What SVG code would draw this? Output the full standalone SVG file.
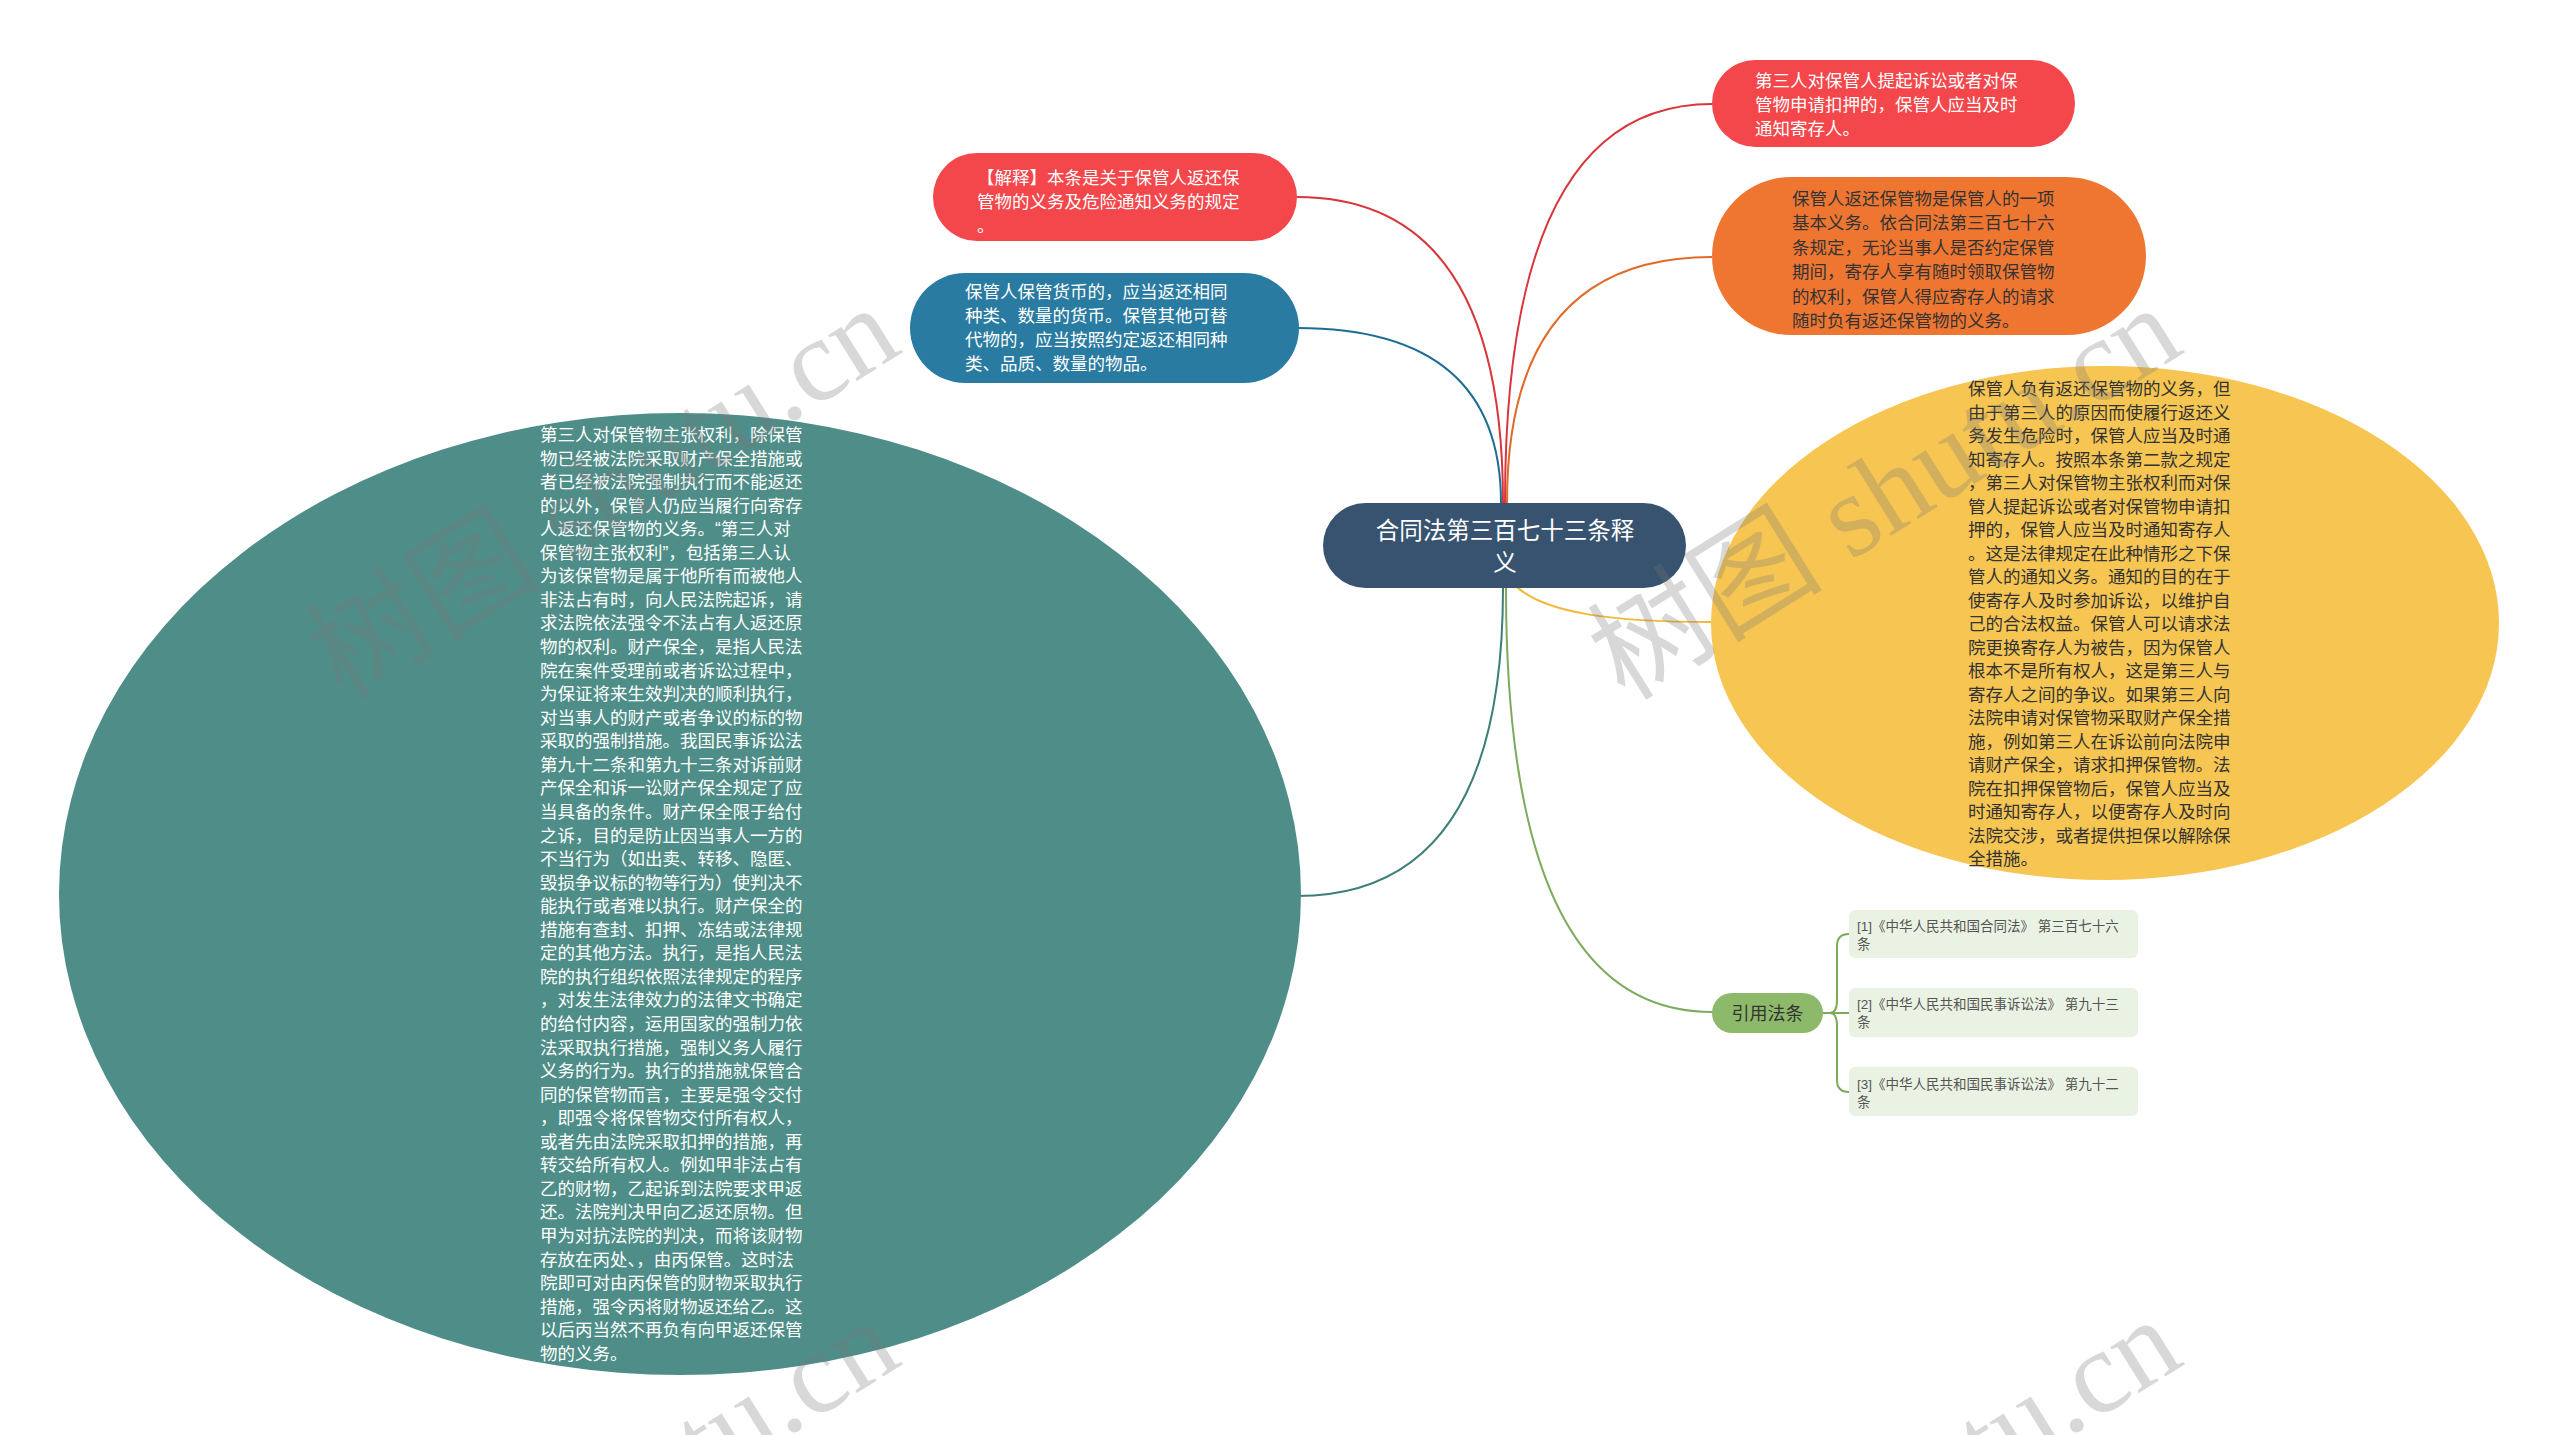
<svg xmlns="http://www.w3.org/2000/svg" width="2560" height="1435" viewBox="0 0 2560 1435">
<style>
.t{font-family:"Liberation Sans","Noto Sans CJK SC",sans-serif;font-size:17.5px}
.w{fill:#ffffff}
.d{fill:#333333}
.c{fill:none;stroke-width:2}
.ref{font-family:"Liberation Sans","Noto Sans CJK SC",sans-serif;font-size:13.5px;fill:#555555}
.wm{font-family:"Liberation Serif","Noto Sans CJK SC",serif;font-size:118px;fill:#777777;opacity:0.28}
</style>
<rect width="2560" height="1435" fill="#ffffff"/>
<g id="connectors">
<path class="c" stroke="#D8363B" d="M1297 197 Q1503 197 1503 503"/>
<path class="c" stroke="#1E6E94" d="M1297 328 Q1501 328 1501 503"/>
<path class="c" stroke="#D8363B" d="M1712 104 Q1505 104 1505 503"/>
<path class="c" stroke="#E06A28" d="M1712 257 Q1507 257 1507 503"/>
<path class="c" stroke="#F0B93A" d="M1512 582 C1540 615 1620 622 1712 622"/>
<path class="c" stroke="#3C7F78" d="M1503 588 Q1503 896 1297 896"/>
<path class="c" stroke="#7DAA5B" d="M1506 588 Q1506 1012 1712 1012"/>
<path class="c" stroke="#7DAA5B" d="M1823 1013 L1849 1013"/>
<path class="c" stroke="#7DAA5B" d="M1830 1013 Q1837 1013 1837 1000 L1837 946 Q1837 934 1849 934"/>
<path class="c" stroke="#7DAA5B" d="M1830 1013 Q1837 1013 1837 1026 L1837 1080 Q1837 1092 1849 1092"/>
</g>
<g id="root">
<rect x="1323" y="503" width="363" height="85" rx="42.5" fill="#37536F"/>
<text class="t w" style="font-size:23.5px" text-anchor="middle"><tspan x="1505" y="539">合同法第三百七十三条释</tspan><tspan x="1505" y="571">义</tspan></text>
</g>
<g id="n-explain">
<rect x="933" y="153" width="364" height="88" rx="44" fill="#F4474B"/>
<text class="t w"><tspan x="977" y="184">【解释】本条是关于保管人返还保</tspan><tspan x="977" y="208">管物的义务及危险通知义务的规定</tspan><tspan x="977" y="232">。</tspan></text>
</g>
<g id="n-currency">
<rect x="910" y="273" width="389" height="110" rx="55" fill="#2A7BA1"/>
<text class="t w"><tspan x="965" y="298">保管人保管货币的，应当返还相同</tspan><tspan x="965" y="322">种类、数量的货币。保管其他可替</tspan><tspan x="965" y="346">代物的，应当按照约定返还相同种</tspan><tspan x="965" y="370">类、品质、数量的物品。</tspan></text>
</g>
<g id="n-third">
<rect x="1712" y="60" width="363" height="87" rx="43.5" fill="#F4474B"/>
<text class="t w"><tspan x="1755" y="87">第三人对保管人提起诉讼或者对保</tspan><tspan x="1755" y="111">管物申请扣押的，保管人应当及时</tspan><tspan x="1755" y="135">通知寄存人。</tspan></text>
</g>
<g id="n-basic">
<rect x="1712" y="177" width="434" height="158" rx="79" fill="#EF7631"/>
<text class="t d"><tspan x="1792" y="205">保管人返还保管物是保管人的一项</tspan><tspan x="1792" y="229.4">基本义务。依合同法第三百七十六</tspan><tspan x="1792" y="253.8">条规定，无论当事人是否约定保管</tspan><tspan x="1792" y="278.2">期间，寄存人享有随时领取保管物</tspan><tspan x="1792" y="302.6">的权利，保管人得应寄存人的请求</tspan><tspan x="1792" y="327">随时负有返还保管物的义务。</tspan></text>
</g>
<g id="n-notice">
<ellipse cx="2105" cy="623" rx="394" ry="257" fill="#F6C552"/>
<text class="t d"><tspan x="1968" y="395">保管人负有返还保管物的义务，但</tspan><tspan x="1968" y="418.5">由于第三人的原因而使履行返还义</tspan><tspan x="1968" y="442">务发生危险时，保管人应当及时通</tspan><tspan x="1968" y="465.5">知寄存人。按照本条第二款之规定</tspan><tspan x="1968" y="489">，第三人对保管物主张权利而对保</tspan><tspan x="1968" y="512.5">管人提起诉讼或者对保管物申请扣</tspan><tspan x="1968" y="536">押的，保管人应当及时通知寄存人</tspan><tspan x="1968" y="559.5">。这是法律规定在此种情形之下保</tspan><tspan x="1968" y="583">管人的通知义务。通知的目的在于</tspan><tspan x="1968" y="606.5">使寄存人及时参加诉讼，以维护自</tspan><tspan x="1968" y="630">己的合法权益。保管人可以请求法</tspan><tspan x="1968" y="653.5">院更换寄存人为被告，因为保管人</tspan><tspan x="1968" y="677">根本不是所有权人，这是第三人与</tspan><tspan x="1968" y="700.5">寄存人之间的争议。如果第三人向</tspan><tspan x="1968" y="724">法院申请对保管物采取财产保全措</tspan><tspan x="1968" y="747.5">施，例如第三人在诉讼前向法院申</tspan><tspan x="1968" y="771">请财产保全，请求扣押保管物。法</tspan><tspan x="1968" y="794.5">院在扣押保管物后，保管人应当及</tspan><tspan x="1968" y="818">时通知寄存人，以便寄存人及时向</tspan><tspan x="1968" y="841.5">法院交涉，或者提供担保以解除保</tspan><tspan x="1968" y="865">全措施。</tspan></text>
</g>
<g id="n-claim">
<ellipse cx="680" cy="894" rx="621" ry="481" fill="#4F8E88"/>
<text class="t w"><tspan x="540" y="441">第三人对保管物主张权利，除保管</tspan><tspan x="540" y="464.56">物已经被法院采取财产保全措施或</tspan><tspan x="540" y="488.12">者已经被法院强制执行而不能返还</tspan><tspan x="540" y="511.68">的以外，保管人仍应当履行向寄存</tspan><tspan x="540" y="535.24">人返还保管物的义务。“第三人对</tspan><tspan x="540" y="558.8">保管物主张权利”，包括第三人认</tspan><tspan x="540" y="582.36">为该保管物是属于他所有而被他人</tspan><tspan x="540" y="605.92">非法占有时，向人民法院起诉，请</tspan><tspan x="540" y="629.48">求法院依法强令不法占有人返还原</tspan><tspan x="540" y="653.04">物的权利。财产保全，是指人民法</tspan><tspan x="540" y="676.6">院在案件受理前或者诉讼过程中，</tspan><tspan x="540" y="700.16">为保证将来生效判决的顺利执行，</tspan><tspan x="540" y="723.72">对当事人的财产或者争议的标的物</tspan><tspan x="540" y="747.28">采取的强制措施。我国民事诉讼法</tspan><tspan x="540" y="770.84">第九十二条和第九十三条对诉前财</tspan><tspan x="540" y="794.4">产保全和诉一讼财产保全规定了应</tspan><tspan x="540" y="817.96">当具备的条件。财产保全限于给付</tspan><tspan x="540" y="841.52">之诉，目的是防止因当事人一方的</tspan><tspan x="540" y="865.08">不当行为（如出卖、转移、隐匿、</tspan><tspan x="540" y="888.64">毁损争议标的物等行为）使判决不</tspan><tspan x="540" y="912.2">能执行或者难以执行。财产保全的</tspan><tspan x="540" y="935.76">措施有查封、扣押、冻结或法律规</tspan><tspan x="540" y="959.32">定的其他方法。执行，是指人民法</tspan><tspan x="540" y="982.88">院的执行组织依照法律规定的程序</tspan><tspan x="540" y="1006.44">，对发生法律效力的法律文书确定</tspan><tspan x="540" y="1030">的给付内容，运用国家的强制力依</tspan><tspan x="540" y="1053.56">法采取执行措施，强制义务人履行</tspan><tspan x="540" y="1077.12">义务的行为。执行的措施就保管合</tspan><tspan x="540" y="1100.68">同的保管物而言，主要是强令交付</tspan><tspan x="540" y="1124.24">，即强令将保管物交付所有权人，</tspan><tspan x="540" y="1147.8">或者先由法院采取扣押的措施，再</tspan><tspan x="540" y="1171.36">转交给所有权人。例如甲非法占有</tspan><tspan x="540" y="1194.92">乙的财物，乙起诉到法院要求甲返</tspan><tspan x="540" y="1218.48">还。法院判决甲向乙返还原物。但</tspan><tspan x="540" y="1242.04">甲为对抗法院的判决，而将该财物</tspan><tspan x="540" y="1265.6">存放在丙处、，由丙保管。这时法</tspan><tspan x="540" y="1289.16">院即可对由丙保管的财物采取执行</tspan><tspan x="540" y="1312.72">措施，强令丙将财物返还给乙。这</tspan><tspan x="540" y="1336.28">以后丙当然不再负有向甲返还保管</tspan><tspan x="540" y="1359.84">物的义务。</tspan></text>
</g>
<g id="n-cite">
<rect x="1712" y="993" width="111" height="40" rx="20" fill="#8DBA6A"/>
<text class="t d" style="font-size:18px" text-anchor="middle" x="1767.5" y="1020">引用法条</text>
</g>
<g id="ref-1">
<rect x="1849" y="910" width="289" height="48" rx="6" fill="#EAF2E3"/>
<text class="ref"><tspan x="1857" y="931">[1]《中华人民共和国合同法》 第三百七十六</tspan><tspan x="1857" y="949">条</tspan></text>
</g>
<g id="ref-2">
<rect x="1849" y="988" width="289" height="49" rx="6" fill="#EAF2E3"/>
<text class="ref"><tspan x="1857" y="1009">[2]《中华人民共和国民事诉讼法》 第九十三</tspan><tspan x="1857" y="1027">条</tspan></text>
</g>
<g id="ref-3">
<rect x="1849" y="1067" width="289" height="49" rx="6" fill="#EAF2E3"/>
<text class="ref"><tspan x="1857" y="1089">[3]《中华人民共和国民事诉讼法》 第九十二</tspan><tspan x="1857" y="1107">条</tspan></text>
</g>
<g id="watermarks">
<text class="wm" transform="translate(343 702) rotate(-32)">树图 shutu.cn</text>
<text class="wm" transform="translate(1625 702) rotate(-32)">树图 shutu.cn</text>
<text class="wm" transform="translate(343 1714) rotate(-32)">树图 shutu.cn</text>
<text class="wm" transform="translate(1625 1714) rotate(-32)">树图 shutu.cn</text>
</g>
</svg>
